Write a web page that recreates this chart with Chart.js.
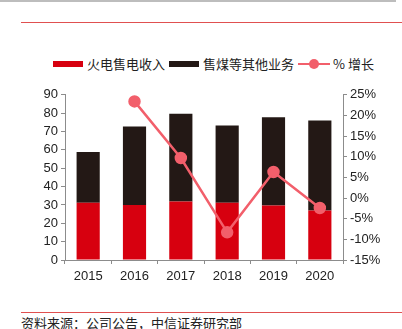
<!DOCTYPE html>
<html lang="zh">
<head>
    <meta charset="UTF-8">
    <script src="https://cdn.jsdelivr.net/npm/chart.js"></script>
    <style>
        body { margin: 0; width: 402px; height: 329px; background: #fff; position: relative; overflow: hidden; font-family: "Liberation Sans", "Noto Sans CJK SC", sans-serif; }
        .topline { position: absolute; left: 0; top: 0; width: 396px; height: 2px; background: #bdbdbd; }
        .redline { position: absolute; left: 21px; right: 0; height: 1px; background: #e05050; }
        .legend { position: absolute; top: 54px; left: 53px; font: 13px "Noto Sans CJK SC", sans-serif; color: #222; display: flex; align-items: center; white-space: nowrap; }
        .legend span.sw { display: inline-block; width: 30px; height: 6px; margin-right: 4px; }
        .legend .item { display: flex; align-items: center; margin-right: 4px; }
        .lineSw { position: relative; width: 32px; height: 10px; margin-right: 3px; }
        .lineSw:before { content: ""; position: absolute; left: 0; right: 0; top: 4px; height: 2px; background: #f25f6b; }
        .lineSw:after { content: ""; position: absolute; left: 11px; top: 0; width: 10px; height: 10px; border-radius: 50%; background: #f25f6b; }
        #wrap { position: absolute; left: 0; top: 84px; width: 402px; height: 202px; }
        .source { position: absolute; left: 21px; top: 313px; font: 13px "Noto Sans CJK SC", sans-serif; color: #222; }
    </style>
</head>
<body>
    <div class="topline"></div>
    <div class="redline" style="top:22px"></div>
    <div class="legend">
        <div class="item"><span class="sw" style="background:#d7000f"></span>火电售电收入</div>
        <div class="item"><span class="sw" style="background:#231815"></span>售煤等其他业务</div>
        <div class="item"><span class="lineSw"></span>% 增长</div>
    </div>
    <div id="wrap"><canvas id="chart"></canvas></div>
    <div class="redline" style="top:312px"></div>
    <div class="source">资料来源：公司公告，中信证券研究部</div>
<script>
    const years = ["2015", "2016", "2017", "2018", "2019", "2020"];
    const powerSales = [31.2, 30.0, 31.9, 31.2, 29.7, 27.0];
    const otherBusiness = [27.7, 42.7, 47.8, 42.1, 48.1, 49.0];
    const growth = [null, 23.4, 9.7, -8.3, 6.3, -2.4];

    const axisColor = "#8c8c8c";
    const tickFont = { family: "Liberation Sans", size: 13 };

    new Chart(document.getElementById("chart"), {
        type: "bar",
        data: {
            labels: years,
            datasets: [
                {
                    label: "火电售电收入",
                    data: powerSales,
                    backgroundColor: "#d7000f",
                    yAxisID: "y",
                    order: 2,
                    barPercentage: 0.5,
                    categoryPercentage: 1
                },
                {
                    label: "售煤等其他业务",
                    data: otherBusiness,
                    backgroundColor: "#231815",
                    yAxisID: "y",
                    order: 2,
                    barPercentage: 0.5,
                    categoryPercentage: 1
                },
                {
                    type: "line",
                    label: "% 增长",
                    data: growth,
                    borderColor: "#f25f6b",
                    backgroundColor: "#f25f6b",
                    borderWidth: 2.5,
                    pointRadius: 5,
                    pointHoverRadius: 5,
                    yAxisID: "y1",
                    order: 0
                }
            ]
        },
        options: {
            responsive: true,
            maintainAspectRatio: false,
            animation: false,
            layout: { padding: { top: 9, left: 0, right: 0, bottom: 0 } },
            plugins: { legend: { display: false }, tooltip: { enabled: false } },
            scales: {
                x: {
                    stacked: true,
                    grid: { offset: true, drawOnChartArea: false, tickLength: 4, color: axisColor },
                    border: { color: axisColor },
                    ticks: { color: "#222", font: tickFont, padding: 5 },
                    afterFit: s => { s.height = 26; }
                },
                y: {
                    stacked: true,
                    position: "left",
                    min: 0, max: 90,
                    grid: { drawOnChartArea: false, tickLength: 4, color: axisColor },
                    border: { color: axisColor },
                    ticks: { stepSize: 10, autoSkip: false, color: "#222", font: tickFont, padding: 3 },
                    afterFit: s => { s.width = 65; }
                },
                y1: {
                    position: "right",
                    min: -15, max: 25,
                    grid: { drawOnChartArea: false, tickLength: 4, color: axisColor },
                    border: { color: axisColor },
                    ticks: { stepSize: 5, autoSkip: false, color: "#222", font: tickFont, padding: 3, callback: v => v + "%" },
                    afterFit: s => { s.width = 59; }
                }
            }
        }
    });
</script>
</body>
</html>
